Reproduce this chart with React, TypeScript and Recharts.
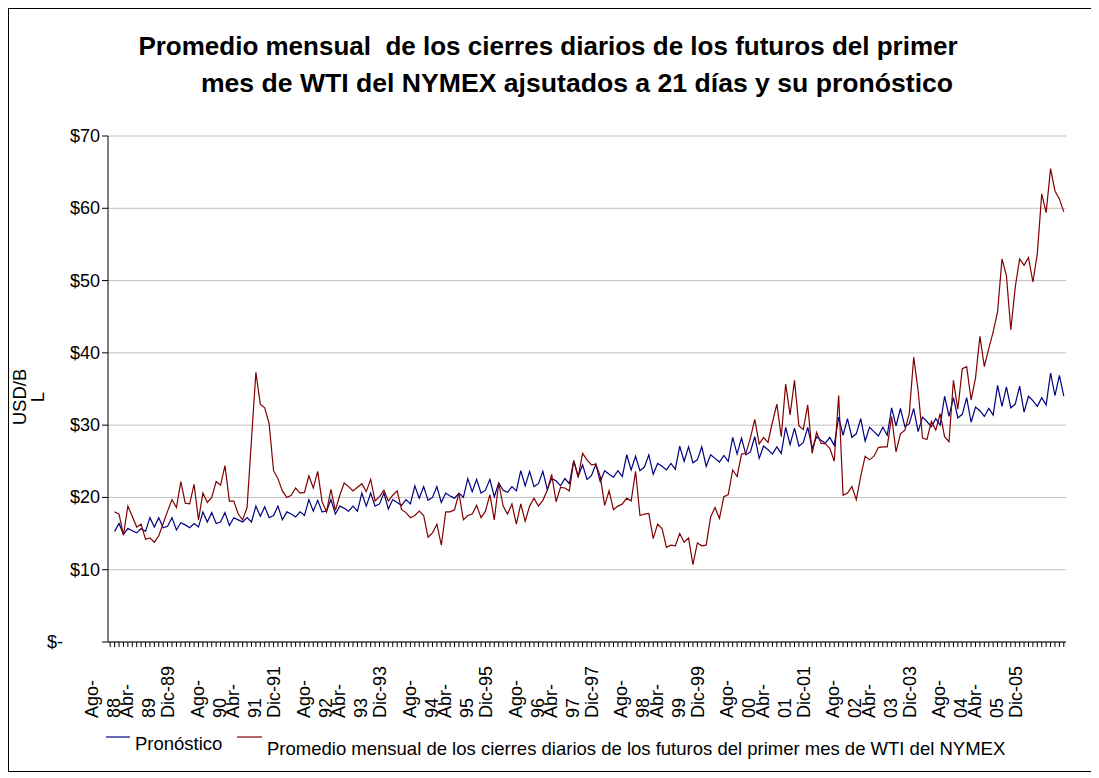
import React from 'react';
import { LineChart, Line, XAxis, YAxis, CartesianGrid } from 'recharts';

const FUENTE = "'Liberation Sans', Arial, sans-serif";

const NOMBRES_MES = ['Ene', 'Feb', 'Mar', 'Abr', 'May', 'Jun', 'Jul', 'Ago', 'Sep', 'Oct', 'Nov', 'Dic'];

// 217 categorías mensuales desde Ago-88 (la primera queda vacía, como en la hoja)
const meses: string[] = [];
for (let k = 0; k < 217; k++) {
  const m = (7 + k) % 12;
  const anio = (88 + Math.floor((7 + k) / 12)) % 100;
  meses.push(`${NOMBRES_MES[m]}-${String(anio).padStart(2, '0')}`);
}

const etiquetasEje = [
  'Ago-88', 'Abr-89', 'Dic-89', 'Ago-90', 'Abr-91', 'Dic-91', 'Ago-92', 'Abr-93', 'Dic-93',
  'Ago-94', 'Abr-95', 'Dic-95', 'Ago-96', 'Abr-97', 'Dic-97', 'Ago-98', 'Abr-99', 'Dic-99',
  'Ago-00', 'Abr-01', 'Dic-01', 'Ago-02', 'Abr-03', 'Dic-03', 'Ago-04', 'Abr-05', 'Dic-05',
];

const ticksY = [0, 10, 20, 30, 40, 50, 60, 70];

const pronostico: (number | null)[] = [
  null,
  15.3, 16.4, 14.9, 15.7, 15.4, 15.1, 15.7, 15.3, 17.2, 15.9,
  17.2, 15.8, 16.0, 17.2, 15.5, 16.5, 16.2, 15.8, 16.4, 15.9,
  18.0, 16.6, 17.9, 16.4, 16.6, 17.9, 16.1, 17.2, 16.9, 16.6,
  17.2, 16.6, 18.8, 17.4, 18.7, 17.2, 17.5, 18.8, 16.9, 18.0,
  17.7, 17.3, 18.0, 17.5, 19.7, 18.1, 19.6, 18.0, 18.1, 19.7,
  17.7, 18.8, 18.5, 18.1, 18.8, 18.1, 20.6, 18.8, 20.6, 18.8,
  19.1, 20.6, 18.4, 19.7, 19.3, 18.9, 19.7, 19.1, 21.6, 19.9,
  21.5, 19.6, 20.0, 21.5, 19.3, 20.6, 20.2, 19.9, 20.6, 20.0,
  22.6, 20.8, 22.5, 20.6, 21.0, 22.5, 20.1, 22.0, 21.0, 20.7,
  21.5, 20.9, 23.7, 21.6, 23.6, 21.5, 21.9, 23.6, 21.1, 22.6,
  22.3, 21.6, 22.6, 21.9, 25.1, 22.9, 24.5, 22.5, 23.0, 24.6,
  22.2, 23.7, 23.2, 22.8, 23.7, 22.9, 25.9, 23.8, 25.7, 23.7,
  24.2, 25.9, 23.2, 24.7, 24.3, 23.8, 24.7, 23.9, 27.1, 25.0,
  27.0, 24.8, 25.2, 27.0, 24.3, 25.9, 25.4, 24.9, 25.8, 25.0,
  28.3, 26.0, 28.2, 25.9, 26.3, 28.4, 25.4, 27.1, 26.6, 26.0,
  27.0, 26.1, 29.7, 27.3, 29.6, 27.1, 27.6, 29.7, 26.8, 28.4,
  27.9, 27.5, 28.3, 27.2, 31.1, 28.6, 30.9, 28.3, 28.8, 30.9,
  27.8, 29.7, 29.1, 28.5, 29.7, 28.6, 32.4, 29.9, 32.3, 29.8,
  30.2, 32.3, 29.1, 31.1, 30.5, 29.8, 30.9, 30.0, 34.0, 31.2,
  33.8, 31.0, 31.5, 33.8, 30.4, 32.5, 32.0, 31.2, 32.3, 31.4,
  35.5, 32.6, 35.3, 32.4, 32.9, 35.4, 31.8, 34.0, 33.4, 32.6,
  33.8, 32.8, 37.2, 34.1, 36.9, 34.0,
];

const promedioMensual: (number | null)[] = [
  null,
  18.0, 17.7, 14.8, 18.8, 17.4, 15.9, 16.3, 14.2, 14.4, 13.8,
  14.7, 16.4, 18.1, 19.7, 18.6, 22.2, 19.2, 19.1, 21.8, 16.9,
  20.6, 19.3, 20.0, 22.2, 21.7, 24.4, 19.5, 19.5, 17.7, 16.9,
  18.6, 28.0, 37.3, 32.9, 32.4, 30.2, 23.7, 22.6, 20.9, 20.0,
  20.3, 21.3, 20.6, 20.7, 23.0, 21.3, 23.6, 19.4, 18.0, 21.1,
  18.2, 20.3, 22.0, 21.5, 20.9, 21.4, 21.9, 20.8, 22.5, 19.5,
  20.1, 21.0, 19.5, 20.3, 20.9, 18.3, 17.9, 17.2, 17.5, 18.1,
  17.5, 14.5, 15.1, 16.3, 13.4, 18.0, 18.0, 18.3, 20.6, 16.9,
  17.5, 17.7, 18.9, 17.2, 18.1, 20.4, 16.9, 22.0, 18.8, 17.7,
  19.1, 16.3, 19.1, 16.7, 18.8, 19.9, 18.8, 19.6, 21.0, 23.2,
  19.4, 21.4, 21.3, 20.9, 25.1, 22.8, 26.1, 25.2, 24.5, 24.6,
  22.9, 18.9, 20.9, 18.3, 18.8, 19.1, 19.9, 19.5, 23.6, 17.5,
  17.7, 17.8, 14.3, 16.3, 15.7, 13.1, 13.4, 13.3, 15.0, 13.8,
  14.4, 10.7, 13.7, 13.3, 13.4, 17.3, 18.6, 17.1, 20.1, 20.4,
  23.8, 22.9, 26.0, 26.1, 28.2, 30.8, 27.4, 28.3, 27.6, 30.4,
  32.9, 28.4, 35.7, 31.4, 36.2, 29.9, 29.4, 32.8, 26.1, 29.0,
  27.5, 27.4, 26.8, 25.0, 34.1, 20.3, 20.6, 21.5, 19.7, 22.9,
  25.7, 25.2, 25.7, 26.9, 27.0, 27.0, 31.2, 26.3, 28.8, 29.3,
  31.6, 39.4, 34.8, 28.2, 28.0, 30.5, 29.3, 31.6, 28.4, 27.7,
  36.2, 32.2, 37.8, 38.1, 33.5, 36.5, 42.3, 38.1, 40.6, 42.9,
  45.7, 53.0, 50.7, 43.2, 49.1, 53.0, 52.1, 53.2, 49.8, 53.7,
  62.0, 59.4, 65.5, 62.4, 61.3, 59.5,
];

const datos = meses.map((mes, i) => ({
  mes,
  pronostico: pronostico[i],
  promedio: promedioMensual[i],
}));

const AZUL = '#000080';
const GRANATE = '#800000';

// etiqueta del eje X: las de Ago y Abr van partidas en dos líneas
const EtiquetaX = (props: any) => {
  const { x, y, payload } = props;
  const valor: string = payload.value;
  if (!etiquetasEje.includes(valor)) return null;
  const base = y + 69;
  if (valor.startsWith('Dic')) {
    const cx = x - 6.5;
    return (
      <text x={cx} y={base} transform={`rotate(-90, ${cx}, ${base})`} fontSize={18} fill="#000" fontFamily={FUENTE}>
        {valor}
      </text>
    );
  }
  const [m, a] = valor.split('-');
  const x1 = x - 12.5;
  const x2 = x + 9.5;
  return (
    <g>
      <text x={x1} y={base} transform={`rotate(-90, ${x1}, ${base})`} fontSize={18} fill="#000" fontFamily={FUENTE}>
        {m + '-'}
      </text>
      <text x={x2} y={base} transform={`rotate(-90, ${x2}, ${base})`} fontSize={18} fill="#000" fontFamily={FUENTE}>
        {a}
      </text>
    </g>
  );
};

const EtiquetaY = (props: any) => {
  const { x, y, payload } = props;
  const v: number = payload.value;
  return (
    <text x={v === 0 ? x - 37 : x} y={y} dy={6} textAnchor="end" fontSize={18} fill="#000" fontFamily={FUENTE}>
      {v === 0 ? '$-' : `$${v}`}
    </text>
  );
};

const TituloEjeY = (props: any) => {
  const { viewBox } = props;
  const cy = viewBox.y + viewBox.height / 2 + 8;
  const x1 = viewBox.x + 9;
  const x2 = viewBox.x + 27;
  return (
    <g>
      <text x={x1} y={cy} transform={`rotate(-90, ${x1}, ${cy})`} textAnchor="middle" fontSize={18.5} fill="#000" fontFamily={FUENTE}>
        USD/B
      </text>
      <text x={x2} y={cy} transform={`rotate(-90, ${x2}, ${cy})`} textAnchor="middle" fontSize={18.5} fill="#000" fontFamily={FUENTE}>
        L
      </text>
    </g>
  );
};

export default function App() {
  return (
    <div
      style={{
        position: 'relative',
        width: 1085,
        height: 764,
        border: '1px solid #000',
        boxSizing: 'border-box',
        background: '#fff',
        fontFamily: FUENTE,
      }}
    >
      <LineChart width={1083} height={762} data={datos} margin={{ top: 127, right: 26, bottom: 39, left: 8 }}>
        <CartesianGrid vertical={false} stroke="#c0c0c0" />
        <XAxis
          dataKey="mes"
          interval={0}
          padding={{ left: 2.2, right: 2.2 }}
          height={90}
          tickSize={5}
          axisLine={{ stroke: '#000' }}
          tickLine={{ stroke: '#000' }}
          tick={<EtiquetaX />}
        />
        <YAxis
          domain={[0, 70]}
          ticks={ticksY}
          width={91}
          tickSize={6}
          axisLine={{ stroke: '#000' }}
          tickLine={{ stroke: '#000' }}
          tick={<EtiquetaY />}
          label={<TituloEjeY />}
        />
        <YAxis yAxisId="borde" orientation="right" width={0} domain={[0, 70]} axisLine={{ stroke: '#808080' }} tick={false} tickLine={false} />
        <Line type="linear" dataKey="pronostico" stroke={AZUL} strokeWidth={1.2} dot={false} isAnimationActive={false} />
        <Line type="linear" dataKey="promedio" stroke={GRANATE} strokeWidth={1.2} dot={false} isAnimationActive={false} />
      </LineChart>

      <svg
        width={1083}
        height={762}
        style={{ position: 'absolute', left: 0, top: 0, pointerEvents: 'none' }}
        fontFamily={FUENTE}
      >
        <text x={539} y={46} textAnchor="middle" fontSize={26} fontWeight="bold" fill="#000" style={{ whiteSpace: 'pre' }}>
          {'Promedio mensual  de los cierres diarios de los futuros del primer'}
        </text>
        <text x={568} y={83} textAnchor="middle" fontSize={26.6} fontWeight="bold" fill="#000">
          mes de WTI del NYMEX ajsutados a 21 días y su pronóstico
        </text>

        <line x1={97} y1={728} x2={121} y2={728} stroke={AZUL} strokeWidth={1.2} />
        <text x={126} y={740.5} fontSize={18.5} fill="#000">Pronóstico</text>
        <line x1={228} y1={728} x2={253} y2={728} stroke={GRANATE} strokeWidth={1.2} />
        <text x={258} y={745.5} fontSize={18.5} fill="#000">
          Promedio mensual de los cierres diarios de los futuros del primer mes de WTI del NYMEX
        </text>
      </svg>
    </div>
  );
}
